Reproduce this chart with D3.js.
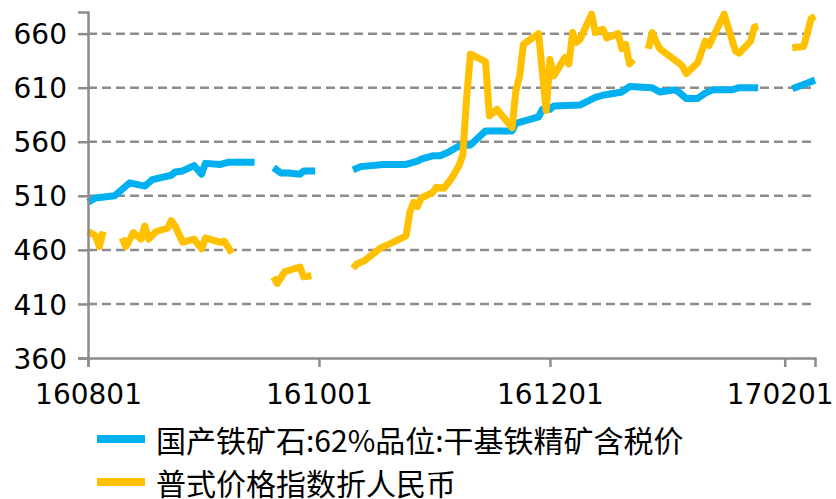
<!DOCTYPE html>
<html>
<head>
<meta charset="utf-8">
<script src="https://cdn.jsdelivr.net/npm/d3@7"></script>
<style>
  body { margin: 0; background: #fff; }
  text { font-family: "DejaVu Sans", sans-serif; fill: #000; }
  .legend text { font-family: "Noto Sans CJK SC", sans-serif; }
</style>
</head>
<body>
<div id="chart"></div>
<script>
// series names
var seriesNames = ["国产铁矿石:62%品位:干基铁精矿含税价", "普式价格指数折人民币"];

// domestic iron ore concentrate, null = no data (holiday gap)
var oreDates = ["160801","160803","160808","160812","160816","160818","160823","160824","160826","160829","160831","160901","160905","160907","160914",
  "160916",
  "160919","160921","160923","160926","160927","160930",
  "161005",
  "161010","161012","161018","161024","161027","161028","161031","161102","161104","161107","161110","161114","161121","161122","161128","161129","161201","161202","161209","161213","161215","161220","161222","161228","161230","170103","170104","170106","170109","170111","170113","170118","170120","170125",
  "170130",
  "170203","170206","170209"];
var oreValues = [504,508,510,522,519,525,529,532,533,538,530,540,539,541,541,
  null,
  536,531,531,530,533,533,
  null,
  534,537,539,539,542,544,547,547,550,556,557,570,570,577,583,590,590,593,594,601,603,606,611,610,606,608,606,600,600,605,608,608,610,610,
  null,
  609,613,617];

// Platts index converted to RMB
var plattsDates = ["160801","160803","160804","160805",
  "160808",
  "160810","160811","160813","160815","160816","160817","160819","160822","160823","160824","160826","160829","160831","160901","160905","160906","160908",
  "160913",
  "160919","160920","160922","160926","160927","160929",
  "161005",
  "161010","161011","161013","161017","161018","161020","161024","161025","161026","161027","161028","161031","161101","161103","161105","161107","161108","161109","161110","161114","161115","161117","161121","161122","161123","161124","161128","161130","161201","161202","161205","161206","161207","161208","161209","161212","161213","161215","161216","161219","161220","161221","161222","161223",
  "161226",
  "161227","161228","161229","161230","170104","170105","170106","170109","170111","170112","170116","170119","170120","170123","170124","170125",
  "170130",
  "170203","170206","170207","170208","170209"];
var plattsValues = [477,473,463,477,
  null,
  471,463,476,470,482,470,477,480,487,482,467,470,461,471,467,468,457,
  null,
  435,429,440,444,435,436,
  null,
  443,447,450,461,463,466,473,495,504,500,508,513,518,517,526,538,548,601,641,634,584,590,573,607,621,650,660,589,636,621,638,632,661,652,655,678,661,664,656,660,646,650,632,636,
  null,
  646,661,653,646,633,630,623,633,653,649,678,644,642,653,666,667,
  null,
  647,648,661,674,676];

var yTicks = [360, 410, 460, 510, 560, 610, 660];
var xTickLabels = ["160801", "161001", "161201", "170201"];

var colors = ["#00b0f0", "#ffc000"];

var width = 836, height = 499,
    margin = {top: 12, right: 21, bottom: 141, left: 88},
    plotW = width - margin.left - margin.right,
    plotH = height - margin.top - margin.bottom;

var parse = d3.timeParse("%y%m%d"),
    fmt = d3.timeFormat("%y%m%d");

var x = d3.scaleTime()
    .domain([parse("160801"), parse("170209")])
    .range([margin.left, margin.left + plotW]);

var y = d3.scaleLinear()
    .domain([360, 680])
    .range([margin.top + plotH, margin.top]);

var svg = d3.select("#chart").append("svg")
    .attr("width", width)
    .attr("height", height);

// grid
svg.append("g").selectAll("line")
    .data(yTicks.slice(1))
    .enter().append("line")
    .attr("x1", margin.left)
    .attr("x2", margin.left + plotW)
    .attr("y1", (d) => y(d))
    .attr("y2", (d) => y(d))
    .attr("stroke", "#8c8c8c")
    .attr("stroke-width", 2.5)
    .attr("stroke-dasharray", "9,5");

var series = [
  oreDates.map((d, i) => ({date: parse(d), v: oreValues[i]})),
  plattsDates.map((d, i) => ({date: parse(d), v: plattsValues[i]}))
];

var line = d3.line()
    .defined((d) => d.v != null)
    .x((d) => x(d.date))
    .y((d) => y(d.v));

svg.append("g").selectAll("path")
    .data(series)
    .enter().append("path")
    .attr("d", line)
    .attr("fill", "none")
    .attr("stroke", (d, i) => colors[i])
    .attr("stroke-width", 7)
    .attr("stroke-linejoin", "round");

// axes
var yAxis = svg.append("g")
    .attr("transform", "translate(" + margin.left + ",0)")
    .call(d3.axisLeft(y).tickValues(yTicks).tickSize(10).tickPadding(11));

var xAxis = svg.append("g")
    .attr("transform", "translate(0," + (margin.top + plotH) + ")")
    .call(d3.axisBottom(x)
        .tickValues(xTickLabels.map(parse))
        .tickFormat(fmt)
        .tickSize(9)
        .tickPadding(17));

[xAxis, yAxis].forEach(function(g) {
  g.select(".domain").attr("stroke", "#8c8c8c").attr("stroke-width", 2.5);
  g.selectAll(".tick line").attr("stroke", "#8c8c8c").attr("stroke-width", 2.5);
  g.selectAll(".tick text").style("font-size", "28px").attr("fill", "#000");
});
yAxis.selectAll(".tick text").attr("dy", "0.36em");
// last label sits against the right edge
xAxis.selectAll(".tick text").filter((d, i) => i === xTickLabels.length - 1).attr("dx", -5);

// legend
var legend = svg.append("g").attr("class", "legend")
    .selectAll("g")
    .data(seriesNames)
    .enter().append("g")
    .attr("transform", (d, i) => "translate(97," + (439 + i * 43) + ")");

legend.append("line")
    .attr("x1", 0).attr("x2", 48)
    .attr("stroke", (d, i) => colors[i])
    .attr("stroke-width", 8);

legend.append("text")
    .attr("x", 59)
    .attr("dominant-baseline", "central")
    .style("font-size", "30px")
    .text((d) => d);
</script>
</body>
</html>
